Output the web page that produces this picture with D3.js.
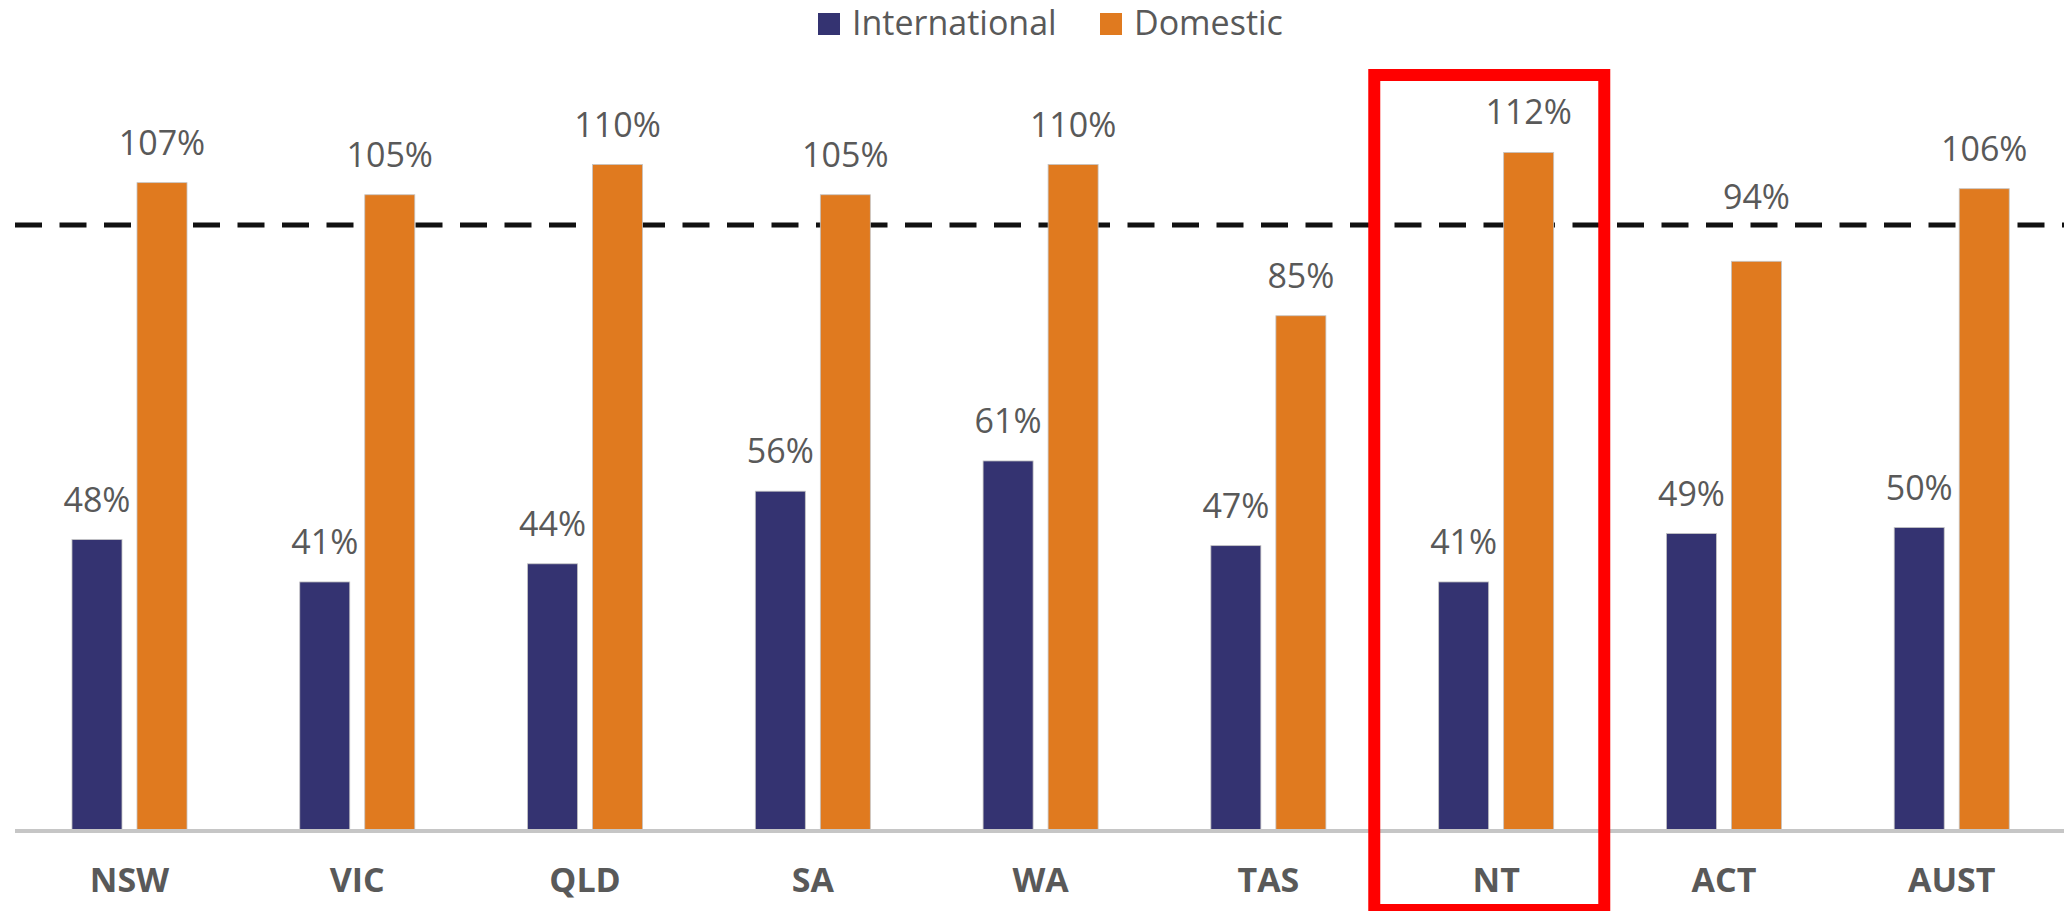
<!DOCTYPE html>
<html>
<head>
<meta charset="utf-8">
<script src="https://cdn.jsdelivr.net/npm/d3@7"></script>
<style>
  html, body { margin: 0; padding: 0; background: #ffffff; }
  svg { display: block; }
  text { font-family: "Open Sans", "Liberation Sans", sans-serif; }
</style>
</head>
<body>
<svg id="chart" width="2064" height="911"></svg>
<script>
// Regions and the two visitor series (per cent of pre-pandemic level)
const categories = ["NSW", "VIC", "QLD", "SA", "WA", "TAS", "NT", "ACT", "AUST"];
const seriesNames = ["International", "Domestic"];
const international = [48, 41, 44, 56, 61, 47, 41, 49, 50];
const domestic = [107, 105, 110, 105, 110, 85, 112, 94, 106];
const referenceLevel = 100;
const highlighted = "NT";

const colors = { International: "#343371", Domestic: "#E07A1F" };
const textGray = "#595959";

const W = 2064, H = 911;
const svg = d3.select("#chart");

const rows = categories.map((c, i) => ({
  category: c,
  values: [
    { series: "International", value: international[i] },
    { series: "Domestic", value: domestic[i] }
  ]
}));

// Scales
const x0 = d3.scaleBand()
  .domain(categories)
  .range([15.6, 2065.6])
  .paddingInner(0.495)
  .paddingOuter(0.2475);

const x1 = d3.scaleBand()
  .domain(seriesNames)
  .range([0, x0.bandwidth()])
  .paddingInner(0.2308)
  .paddingOuter(0);

const y = d3.scaleLinear()
  .domain([0, 100])
  .range([830, 225]);

// Dashed 100% reference line (behind the bars)
const refY = y(referenceLevel);
svg.append("line")
  .attr("x1", 15)
  .attr("x2", W)
  .attr("y1", refY)
  .attr("y2", refY)
  .attr("stroke", "#111111")
  .attr("stroke-width", 5)
  .attr("stroke-dasharray", "27 17.5");

// Bars
const groups = svg.append("g")
  .selectAll("g")
  .data(rows)
  .join("g")
  .attr("transform", d => `translate(${x0(d.category)},0)`);

groups.selectAll("rect")
  .data(d => d.values)
  .join("rect")
  .attr("x", d => x1(d.series))
  .attr("y", d => y(d.value))
  .attr("width", x1.bandwidth())
  .attr("height", d => y(0) - y(d.value))
  .attr("fill", d => colors[d.series])
  .attr("stroke", "#c4c4c4")
  .attr("stroke-width", 0.8);

// Value labels above each bar; a label that would sit on the
// reference line is lifted clear above it
const labelGap = 28, labelCap = 24;
function labelY(v) {
  const base = y(v) - labelGap;
  const overlaps = base + 3 > refY - 3 && base - labelCap < refY + 3;
  return overlaps ? refY - 16 : base;
}
groups.selectAll("text.value")
  .data(d => d.values)
  .join("text")
  .attr("class", "value")
  .attr("x", d => x1(d.series) + x1.bandwidth() / 2)
  .attr("y", d => labelY(d.value))
  .attr("text-anchor", "middle")
  .attr("font-size", 34)
  .attr("fill", textGray)
  .text(d => d.value + "%");

// Category axis baseline
svg.append("line")
  .attr("x1", 15)
  .attr("x2", W)
  .attr("y1", y(0) + 1)
  .attr("y2", y(0) + 1)
  .attr("stroke", "#c6c6c6")
  .attr("stroke-width", 4);

// Category labels
const xAxis = d3.axisBottom(x0).tickSize(0).tickPadding(0);
const axisG = svg.append("g")
  .attr("transform", `translate(0,${y(0)})`)
  .call(xAxis);
axisG.select(".domain").remove();
axisG.selectAll(".tick text")
  .attr("y", 62)
  .attr("dy", 0)
  .attr("font-size", 34)
  .attr("font-weight", "bold")
  .attr("font-family", "'Open Sans', 'Liberation Sans', sans-serif")
  .attr("fill", textGray);

// Highlight box around the NT group
const step = x0.step();
const hx = x0(highlighted) - x0.paddingOuter() * step;
svg.append("rect")
  .attr("x", hx - 8)
  .attr("y", 75)
  .attr("width", 230)
  .attr("height", 835)
  .attr("fill", "none")
  .attr("stroke", "#ff0000")
  .attr("stroke-width", 12);

// Legend
const legend = svg.append("g");
const legendItems = [
  { name: "International", x: 818 },
  { name: "Domestic", x: 1100 }
];
const li = legend.selectAll("g")
  .data(legendItems)
  .join("g")
  .attr("transform", d => `translate(${d.x},0)`);
li.append("rect")
  .attr("x", 0)
  .attr("y", 13)
  .attr("width", 22)
  .attr("height", 22)
  .attr("fill", d => colors[d.name]);
li.append("text")
  .attr("x", 34)
  .attr("y", 35)
  .attr("font-size", 34)
  .attr("fill", textGray)
  .text(d => d.name);
</script>
</body>
</html>
